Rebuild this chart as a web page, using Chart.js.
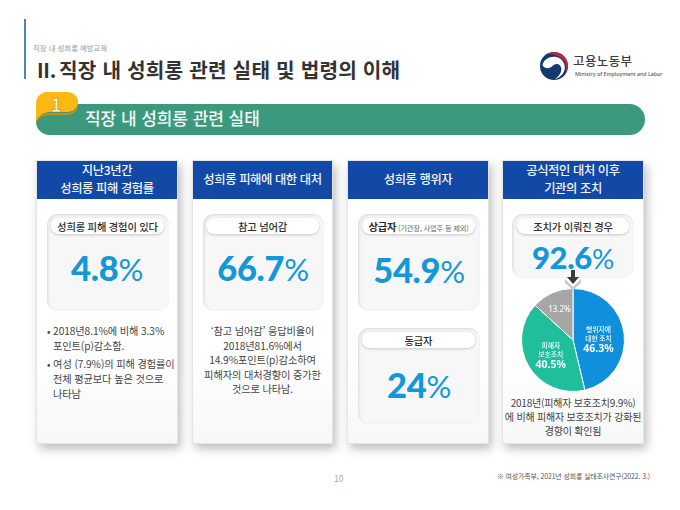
<!DOCTYPE html>
<html lang="ko"><head><meta charset="utf-8">
<script src="https://cdn.jsdelivr.net/npm/chart.js@4"></script>
<style>
html,body{margin:0;padding:0;background:#fff}
body{width:680px;height:510px;position:relative;overflow:hidden;font-family:"Noto Sans CJK KR","Noto Sans",sans-serif;color:#3a3a3a}
.a{position:absolute}
.t{position:absolute;white-space:nowrap}
.card{position:absolute;top:160px;height:284px;background:linear-gradient(#fff 70%,#f7f7f7);box-shadow:3px 5px 9px rgba(0,0,0,.25);border:1px solid #e4e4e4;box-sizing:border-box}
.head{position:absolute;left:0;right:0;top:0;height:38px;background:#1349a6;color:#f2f5fb;font-size:12.3px;font-weight:500;line-height:17.9px;text-align:center;display:flex;align-items:center;justify-content:center;letter-spacing:-.4px}
.box{position:absolute;background:#f7f7f8;border-radius:11px;box-shadow:inset 1px 1px 3px rgba(0,0,0,.12)}
.pill{position:absolute;height:16px;background:#fff;border-radius:8px;box-shadow:0 1px 3px rgba(0,0,0,.2);font-size:10.3px;font-weight:500;line-height:17px;text-align:center;color:#2e2e2e;white-space:nowrap;letter-spacing:-.2px}
.big{position:absolute;text-align:center;color:#1397d9;font-family:"Lato","Noto Sans",sans-serif;font-weight:900;font-size:34.5px;line-height:40px;letter-spacing:-.3px}
.big i{font-style:normal;font-weight:400;font-size:.9em}
.body{position:absolute;font-size:10.2px;line-height:14.5px;color:#444;letter-spacing:-.1px}
</style></head><body>
<div class="a" style="left:24px;top:19px;width:2px;height:60px;background:#4f86b8"></div>
<div class="t" style="left:33px;top:42px;font-size:7.4px;color:#999;line-height:12px">직장 내 성희롱 예방교육</div>
<div class="t" style="left:37px;top:56px;font-size:20.2px;font-weight:700;color:#333;line-height:28px;letter-spacing:.2px"><span style="letter-spacing:-.3px">II.</span><span style="margin-left:3px">직장 내 성희롱 관련 실태 및 법령의 이해</span></div>
<svg class="a" style="left:539px;top:51px" width="31" height="30" viewBox="0 0 31 30">
<circle cx="15" cy="15" r="14" fill="#123a6f"/>
<path d="M8 3C12 .5 19 .5 24 4.500C29 9 30 16 27 22C28 15 26 9 21 6C17 3.500 12 3 8 3Z" fill="#d41f3c"/>
<path d="M3.500 14C5 8 11 5 17 6C23 7 27 13 25.500 19C24 24 20 27 15.500 28.500C22 24 24 18 21 14.500C18.500 12 15.500 13 13.500 15C10.500 18 5 18 3.500 14Z" fill="#fff"/>
</svg>
<div class="t" style="left:573px;top:53px;font-size:12.4px;font-weight:500;color:#3c3c3c;line-height:16px;letter-spacing:.5px">고용노동부</div>
<div class="t" style="left:575px;top:70px;font-size:5.3px;font-weight:500;color:#555;line-height:8px;font-family:'Noto Sans',sans-serif">Ministry of Employment and Labor</div>

<div class="a" style="left:36px;top:104px;width:609px;height:31px;background:#3b9a7d;border-radius:0 16px 16px 14px"></div>
<svg class="a" style="left:34px;top:91px" width="46" height="33" viewBox="0 0 46 33">
<path d="M2 32C3 25 9 22 16 22H33C39 22 44 17 44 11V14C44 20 39 24 33 24H16C9 24 4 27 2 32Z" fill="#c98f12"/>
<path d="M2 31V12C2 6 7 1 13 1H33C39 1 44 5 44 11C44 17 39 21 33 21H16C9 21 4 25 2 31Z" fill="#fdb913"/>
</svg>
<div class="t" style="left:47px;top:91px;width:18px;text-align:center;font-size:19px;font-weight:700;color:#fff3cf;line-height:26px;-webkit-text-stroke:.6px #c9820c">1</div>
<div class="t" style="left:85px;top:105px;font-size:17px;font-weight:500;color:#f3faf7;line-height:25px;letter-spacing:-.05px">직장 내 성희롱 관련 실태</div>

<div class="card" style="left:36px;width:142px"><div class="head">지난3년간<br>성희롱 피해 경험률</div>
 <div class="box" style="left:10px;top:53px;width:122px;height:97px"></div>
 <div class="pill" style="left:14px;top:57px;width:113px">성희롱 피해 경험이 있다</div>
 <div class="big" id="v0" style="left:9px;width:122px;top:87px"></div>
 <div class="body" style="left:10px;top:163px;width:130px">
  <div class="t" style="left:0;top:0">• 2018년8.1%에 비해 3.3%</div><div class="t" style="left:6px;top:15px">포인트(p)감소함.</div>
  <div class="t" style="left:0;top:33px">• 여성 (7.9%)의 피해 경험률이</div><div class="t" style="left:6px;top:48px">전체 평균보다 높은 것으로</div><div class="t" style="left:6px;top:63px">나타남</div>
 </div></div>

<div class="card" style="left:192px;width:141px"><div class="head">성희롱 피해에 대한 대처</div>
 <div class="box" style="left:10px;top:53px;width:121px;height:97px"></div>
 <div class="pill" style="left:13px;top:57px;width:113px">참고 넘어감</div>
 <div class="big" id="v1" style="left:9px;width:122px;top:87px"></div>
 <div class="body" style="left:0;right:0;top:163px;text-align:center;line-height:14.600px">‘참고 넘어감’ 응답비율이<br>2018년81.6%에서<br>14.9%포인트(p)감소하여<br>피해자의 대처경향이 증가한<br>것으로 나타남.</div>
</div>

<div class="card" style="left:347px;width:142px"><div class="head">성희롱 행위자</div>
 <div class="box" style="left:10px;top:53px;width:122px;height:97px"></div>
 <div class="pill" style="left:14px;top:57px;width:113px"><b style="font-weight:600">상급자</b><span style="font-size:7.300px;color:#666;font-weight:400"> (기관장, 사업주 등 제외)</span></div>
 <div class="big" id="v2" style="left:10px;width:122px;top:89px"></div>
 <div class="box" style="left:10px;top:167px;width:122px;height:96px"></div>
 <div class="pill" style="left:14px;top:171px;width:113px">동급자</div>
 <div class="big" id="v3" style="left:10px;width:122px;top:204px"></div>
</div>

<div class="card" style="left:502px;width:142px"><div class="head">공식적인 대처 이후<br>기관의 조치</div>
 <div class="box" style="left:9px;top:53px;width:122px;height:64px"></div>
 <div class="pill" style="left:14px;top:57px;width:112px">조치가 이뤄진 경우</div>
 <div class="big" id="v4" style="left:9px;width:122px;top:76px;font-size:31px"></div>
 <div class="body" style="left:0;right:0;top:235px;text-align:center;font-size:10px;line-height:14px;white-space:nowrap;letter-spacing:-.2px">2018년(피해자 보호조치9.9%)<br>에 비해 피해자 보호조치가 강화된<br>경향이 확인됨</div>
</div>

<div class="a" style="left:521px;top:288px;width:104px;height:104px"><canvas id="pie" width="104" height="104"></canvas></div>
<svg class="a" style="left:564px;top:268px" width="18" height="22" viewBox="0 0 18 22">
<path d="M1 11L9 19L17 11V15L9 22L1 15Z" fill="#c9c9c9"/>
<path d="M7 2H11V9L15 9L9 16L3 9L7 9Z" fill="#3a3a3a"/>
</svg>
<div class="t" style="left:334px;top:471px;font-size:8.500px;color:#aaa;line-height:14px">10</div>
<div class="t" style="left:497px;top:470px;font-size:6.900px;color:#555;line-height:12px;letter-spacing:-.1px">※ 여성가족부, 2021년 성희롱 실태조사연구(2022. 3.)</div>

<script>
const statValues = ["4.8", "66.7", "54.9", "24", "92.6"];
const pieLabels = [["행위자에", "대한 조치"], ["피해자", "보호조치"], []];
const pieValues = [46.3, 40.5, 13.2];
const pieColors = ["#0f8fdc", "#1fbf9b", "#a6a6a6"];

statValues.forEach((v, i) => {
  document.getElementById("v" + i).innerHTML = v + "<i>%</i>";
});

const sliceText = {
  id: "sliceText",
  afterDatasetsDraw(chart) {
    const c = chart.ctx, meta = chart.getDatasetMeta(0);
    c.save();
    c.textAlign = "center";
    c.textBaseline = "middle";
    c.fillStyle = "#f4fbfb";
    meta.data.forEach((arc, i) => {
      const p = arc.getCenterPoint();
      // the grey slice's label sits further out than its mid-radius point
      const k0 = i === 2 ? 1.3 : 1;
      const x = arc.x + (p.x - arc.x) * k0, y = arc.y + (p.y - arc.y) * k0;
      const lines = pieLabels[i];
      const n = lines.length;
      const dy = i === 2 ? 0 : 1;
      lines.forEach((s, k) => {
        c.font = '500 6.8px "Noto Sans CJK KR"';
        c.fillText(s, x, y + dy + (k - n / 2) * 9);
      });
      c.font = i === 2 ? '500 8px "Noto Sans"' : '700 10.5px "Noto Sans"';
      c.fillText(pieValues[i].toFixed(1) + "%", x, y + dy + (n ? n / 2 * 9 + 2 : 0));
    });
    c.restore();
  }
};

new Chart(document.getElementById("pie"), {
  type: "pie",
  data: {
    labels: pieLabels.map((l, i) => l.join(" ") || "기타"),
    datasets: [{ data: pieValues, backgroundColor: pieColors, borderColor: "#fff", borderWidth: 1 }]
  },
  options: {
    responsive: false,
    animation: false,
    layout: { padding: 0 },
    plugins: { legend: { display: false }, tooltip: { enabled: false } }
  },
  plugins: [sliceText]
});
</script>
</body></html>
